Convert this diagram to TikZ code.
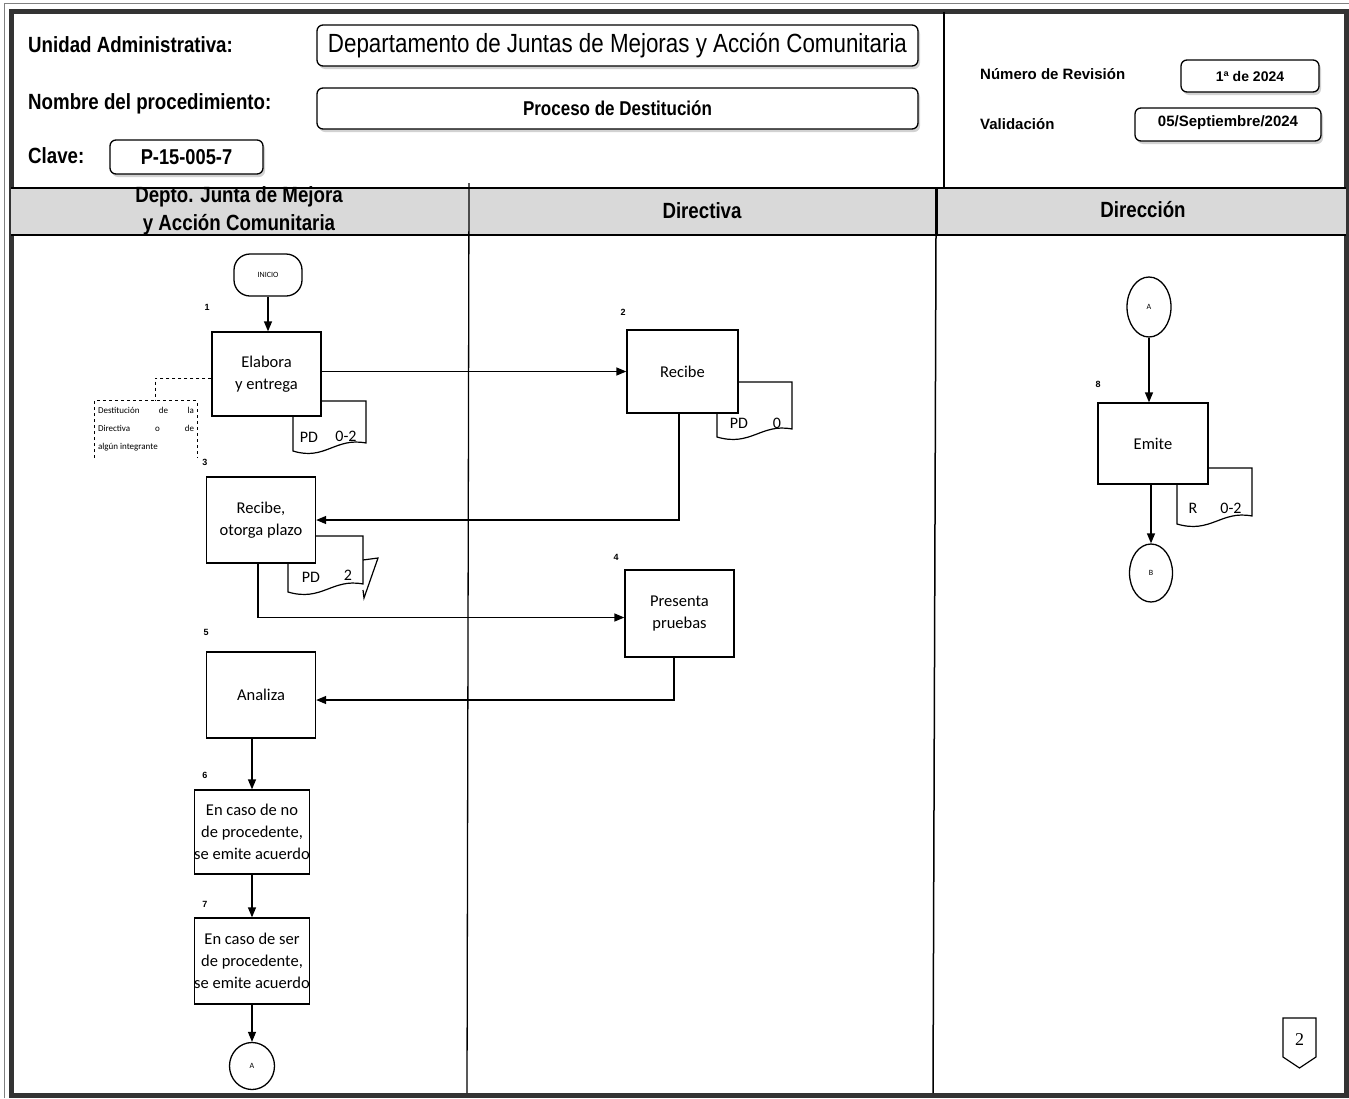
\documentclass[tikz,border=0pt]{standalone}
\usepackage{fontspec}
\setmainfont{Liberation Sans}
\newfontfamily\condfont[FakeStretch=0.85]{Liberation Sans}
\newfontfamily\flowfont{Carlito}
\newfontfamily\pagefont{Liberation Serif}
\usetikzlibrary{arrows.meta,shadows,shapes.geometric}

\begin{document}
\begin{tikzpicture}[x=1pt,y=-1pt,
  hdrbox/.style={draw, line width=1.3pt, rounded corners=6pt, fill=white,
    drop shadow={shadow xshift=2pt, shadow yshift=-3pt, opacity=0.35}, inner sep=0pt},
  hdrlabel/.style={anchor=west, inner sep=0pt, font=\condfont\bfseries\fontsize{22}{26}\selectfont},
  smalllabel/.style={anchor=west, inner sep=0pt, font=\bfseries\fontsize{15}{18}\selectfont},
  lanehead/.style={inner sep=0pt, align=center, font=\condfont\bfseries\fontsize{22}{28}\selectfont},
  procbox/.style={draw, line width=1.3pt, fill=white, align=center, inner sep=0pt,
    font=\flowfont\fontsize{16.5}{22}\selectfont},
  conn/.style={draw, ellipse, line width=1.3pt, fill=white, inner sep=0pt,
    font=\flowfont\fontsize{8}{9}\selectfont},
  doc/.style={draw, line width=1.2pt, fill=white},
  doctext/.style={inner sep=0pt, font=\flowfont\fontsize{16}{18}\selectfont},
  stepnum/.style={inner sep=0pt, font=\bfseries\fontsize{9}{10}\selectfont},
  arr/.style={line width=1.3pt, -{Triangle[length=10pt,width=8pt]}},
  link/.style={line width=1.3pt}
]
\useasboundingbox (0,0) rectangle (1349,1098);
\fill[white] (0,0) rectangle (1349,1098);

% outer frame
\draw[gray, line width=1pt] (4,1098) -- (4,3) -- (1349,3);
\draw[black!80, line width=5pt] (11.5,11.5) rectangle (1346,1095.5);

% header area
\draw[line width=1.5pt] (944,12) -- (944,187);
\node[hdrlabel] (lblunidad) at (28,45) {Unidad Administrativa:};
\node[hdrlabel] (lblnombre) at (28,104) {Nombre del procedimiento:};
\node[hdrlabel] (lblclave) at (28,156) {Clave:};
\node[hdrbox, minimum width=153pt, minimum height=34pt,
  font=\condfont\bfseries\fontsize{21.5}{24}\selectfont] (clave) at (186.5,157) {P-15-005-7};
\node[hdrbox, minimum width=601pt, minimum height=41pt,
  font=\condfont\fontsize{26.3}{30}\selectfont] (unidad) at (617.5,45.5)
  {Departamento de Juntas de Mejoras y Acción Comunitaria};
\node[hdrbox, minimum width=601pt, minimum height=41pt,
  font=\condfont\bfseries\fontsize{20}{22}\selectfont] (proc) at (617.5,108.5) {Proceso de Destitución};
\node[smalllabel] (lblrev) at (980,74) {Número de Revisión};
\node[smalllabel] (lblval) at (980,124) {Validación};
\node[hdrbox, minimum width=138pt, minimum height=32pt,
  font=\bfseries\fontsize{14}{16}\selectfont] (rev) at (1250,76) {1ª de 2024};
\node[hdrbox, minimum width=186pt, minimum height=33pt,
  font=\bfseries\fontsize{15}{18}\selectfont, text depth=6pt] (val) at (1228,124.5) {05/Septiembre/2024};

% swimlane header band
\fill[black!15] (11,188) rectangle (1346,235);
\draw[line width=1.3pt] (11,188) -- (1346,188);
\draw[line width=1.3pt] (11,235) -- (1346,235);
\draw[line width=1.3pt] (469,183) -- (467,1093);
\draw[line width=3pt] (936,188) -- (936,235);
\draw[line width=1.5pt] (936,235) -- (933,1093);
\node[lanehead] (lane1) at (239,211) {Depto. Junta de Mejora\\y Acción Comunitaria};
\node[lanehead] (lane2) at (702,211) {Directiva};
\node[lanehead] (lane3) at (1143,210) {Dirección};

% documents produced by the activities
\draw[doc] (293,401) -- (366,401) -- (366,443) .. controls (335,437) and (325,461) .. (293,451) -- cycle;
\node[doctext] (d1a) at (309,437) {PD};
\node[doctext] (d1b) at (346,436) {0-2};
\draw[doc] (288,536) -- (363,536) -- (363,584) .. controls (332,578) and (322,602) .. (288,592) -- cycle;
\draw[line width=1.2pt] (363,560) -- (378,558) -- (364,598) -- (363,590);
\node[doctext] (d2a) at (311,577) {PD};
\node[doctext] (d2b) at (348,575) {2};
\draw[doc] (717,382) -- (792,382) -- (792,429) .. controls (761,423) and (751,447) .. (717,437) -- cycle;
\node[doctext] (d3a) at (739,423) {PD};
\node[doctext] (d3b) at (777,423) {0};
\draw[doc] (1177,468) -- (1252,468) -- (1252,516) .. controls (1221,510) and (1211,534) .. (1177,524) -- cycle;
\node[doctext] (d4a) at (1193,508) {R};
\node[doctext] (d4b) at (1231,508) {0-2};

% activities
\node[draw, line width=1.3pt, fill=white, rounded corners=16pt, minimum width=68pt,
  minimum height=42pt, inner sep=0pt, font=\flowfont\fontsize{8}{9}\selectfont] (inicio) at (268,275) {INICIO};
\node[procbox, minimum width=109pt, minimum height=84pt] (elabora) at (266.5,374) {Elabora\\y entrega};
\node[procbox, minimum width=111pt, minimum height=83pt] (recibe) at (682.5,371.5) {Recibe};
\node[procbox, minimum width=109pt, minimum height=86pt] (otorga) at (261,520) {Recibe,\\otorga plazo};
\node[procbox, minimum width=109pt, minimum height=87pt] (presenta) at (679.5,613.5) {Presenta\\pruebas};
\node[procbox, minimum width=109pt, minimum height=86pt] (analiza) at (261,695) {Analiza};
\node[procbox, minimum width=110pt, minimum height=84pt] (nopro) at (252,832)
  {En caso de no\\de procedente,\\se emite acuerdo};
\node[procbox, minimum width=110pt, minimum height=86pt] (sipro) at (252,961)
  {En caso de ser\\de procedente,\\se emite acuerdo};
\node[procbox, minimum width=110pt, minimum height=81pt] (emite) at (1153,443.5) {Emite};
\node[conn, minimum width=45pt, minimum height=47pt] (conA) at (252,1066) {A};
\node[conn, minimum width=44pt, minimum height=60pt] (conA2) at (1149,307) {A};
\node[conn, minimum width=43pt, minimum height=58pt] (conB) at (1151,573) {B};

% annotation
\node[minimum width=102pt, minimum height=57pt, inner sep=0pt, align=left,
  font=\flowfont\fontsize{9}{18}\selectfont] (nota) at (146,429.5)
  {\makebox[96pt][s]{Destitución de la}\\\makebox[96pt][s]{Directiva o de}\\\makebox[96pt][l]{algún integrante}};
\draw[dashed, line width=1pt] (nota.south west) -- (nota.north west) -- (nota.north east) -- (nota.south east);
\draw[dashed, line width=1pt] ([yshift=-4pt]elabora.west) -| ([xshift=9pt]nota.north);

% step numbers
\node[stepnum] (s1) at (207,307) {1};
\node[stepnum] (s2) at (623,312) {2};
\node[stepnum] (s3) at (205,462) {3};
\node[stepnum] (s4) at (616,557) {4};
\node[stepnum] (s5) at (206,632) {5};
\node[stepnum] (s6) at (205,775) {6};
\node[stepnum] (s7) at (205,904) {7};
\node[stepnum] (s8) at (1098,384) {8};

% connectors
\draw[arr] (inicio.south) -- (inicio.south |- elabora.north);
\draw[arr] (recibe.west -| elabora.east) -- (recibe.west);
\draw[arr] ([xshift=-3.5pt]recibe.south) |- (otorga.east);
\draw[arr] ([xshift=-3pt]otorga.south) |- ([yshift=-4pt]presenta.west);
\draw[arr] ([xshift=-5.5pt]presenta.south) |- ([yshift=-5pt]analiza.east);
\draw[arr] (nopro.north |- analiza.south) -- (nopro.north);
\draw[arr] (nopro.south) -- (sipro.north);
\draw[arr] (sipro.south) -- (conA.north);
\draw[arr] (conA2.south) -- (conA2.south |- emite.north);
\draw[arr] (conB.north |- emite.south) -- (conB.north);

% page connector
\draw[line width=1.2pt, fill=white] (1283,1018) -- (1316,1018) -- (1316,1057) -- (1299.5,1068) -- (1283,1057) -- cycle;
\node[inner sep=0pt, font=\pagefont\fontsize{18}{20}\selectfont] (page) at (1299.5,1040) {2};
\end{tikzpicture}
\end{document}
